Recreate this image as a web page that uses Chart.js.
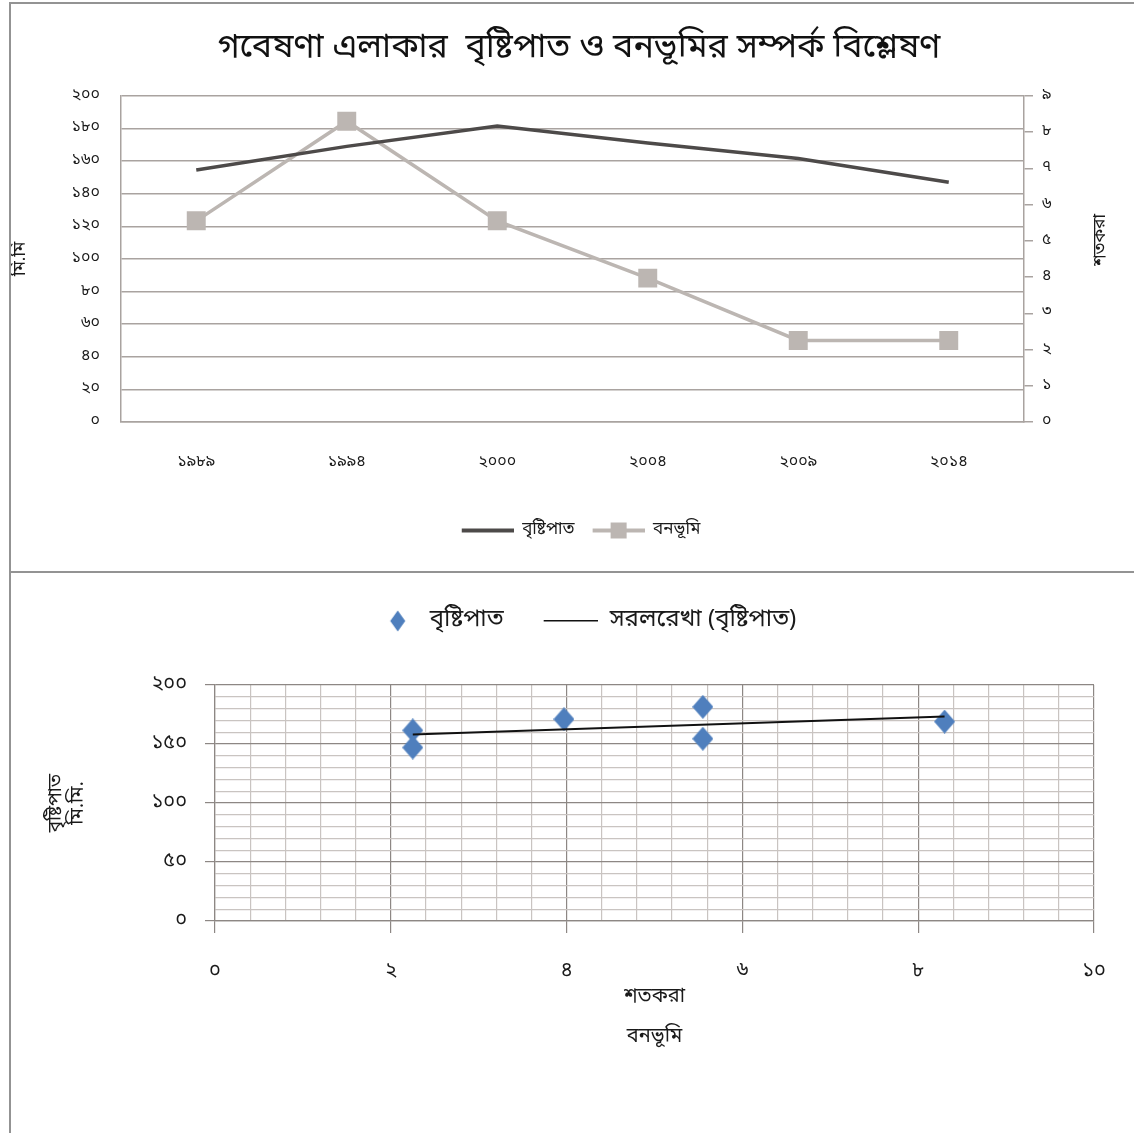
<!DOCTYPE html>
<html>
<head>
<meta charset="utf-8">
<script src="https://cdn.jsdelivr.net/npm/chart.js@4.4.1/dist/chart.umd.min.js"></script>
<style>
  html, body { margin: 0; padding: 0; background: #ffffff; }
  body { width: 1134px; height: 1133px; position: relative; overflow: hidden; }
  canvas { position: absolute; left: 0; }
  #trendChart { top: 0; }
  #scatterChart { top: 572px; }
  .rule { position: absolute; background: #939393; }
</style>
</head>
<body>
<canvas id="trendChart" width="1134" height="572" style="width:1134px;height:572px"></canvas>
<canvas id="scatterChart" width="1134" height="561" style="width:1134px;height:561px"></canvas>
<div class="rule" style="left:9px;top:2px;width:1125px;height:2px"></div>
<div class="rule" style="left:9px;top:2px;width:2px;height:1131px"></div>
<div class="rule" style="left:9px;top:571px;width:1125px;height:2px"></div>
<script>
// ---- data ----
const years = ['১৯৮৯', '১৯৯৪', '২০০০', '২০০৪', '২০০৯', '২০১৪'];
const rainfall = [154.5, 169, 181.5, 171, 161.5, 147];   // মি.মি
const forest = [5.55, 8.3, 5.55, 3.97, 2.25, 2.25];       // শতকরা
const bnDigits = ['০', '১', '২', '৩', '৪', '৫', '৬', '৭', '৮', '৯'];
const titleText = 'গবেষণা এলাকার  বৃষ্টিপাত ও বনভূমির সম্পর্ক বিশ্লেষণ';
const rainName = 'বৃষ্টিপাত';
const forestName = 'বনভূমি';
const trendName = 'সরলরেখা (বৃষ্টিপাত)';
const mmLabel = 'মি.মি';
const pctLabel = 'শতকরা';
const scatterYTitle = ['বৃষ্টিপাত', 'মি.মি.'];
const scatterXTitle = ['শতকরা', 'বনভূমি'];

// ---- styling ----
const FONT = "'Noto Sans Bengali', 'Lohit Bengali', 'Noto Serif Bengali', 'FreeSans', 'Noto Sans', sans-serif";
const TEXT = '#1a1a1a';
const DARK = '#4d4a49';
const LIGHT = '#bcb6b2';
const GRID = '#a9a3a0';
const BLUE = '#4f7fbd';

Chart.defaults.font.family = FONT;
Chart.defaults.color = TEXT;
Chart.defaults.animation = false;

const toBn = v => String(v).replace(/\d/g, d => bnDigits[d]);

function icon(w, h, draw) {
  const c = document.createElement('canvas');
  c.width = w; c.height = h;
  draw(c.getContext('2d'));
  return c;
}
function diamondAt(g, cx, cy, w, h, color) {
  g.fillStyle = color;
  g.beginPath();
  g.moveTo(cx, cy - h / 2);
  g.lineTo(cx + w / 2, cy);
  g.lineTo(cx, cy + h / 2);
  g.lineTo(cx - w / 2, cy);
  g.closePath();
  g.fill();
}

// legend swatches
const iconRain = icon(56, 8, g => { g.fillStyle = DARK; g.fillRect(4, 2, 52, 4); });
const iconForest = icon(56, 18, g => { g.fillStyle = LIGHT; g.fillRect(4, 7, 52, 4); g.fillRect(22, 1, 16, 16); });
const iconDiamond = icon(64, 22, g => diamondAt(g, 44, 11, 15, 21, BLUE));
const iconTrend = icon(64, 4, g => { g.fillStyle = '#111'; g.fillRect(10, 1, 54, 1.5); });
// scatter marker
const pointDiamond = icon(21, 24, g => diamondAt(g, 10.5, 12, 21, 24, BLUE));

// ---- upper chart: time series on two axes ----
const sideTitle = {
  id: 'sideTitle',
  afterDraw(chart) {
    const ctx = chart.ctx;
    ctx.save();
    ctx.translate(1102, 240);
    ctx.rotate(-Math.PI / 2);
    ctx.font = '17px ' + FONT;
    ctx.fillStyle = TEXT;
    ctx.textAlign = 'center';
    ctx.textBaseline = 'middle';
    ctx.fillText(pctLabel, 0, 0);
    ctx.restore();
  }
};

new Chart(document.getElementById('trendChart'), {
  type: 'line',
  data: {
    labels: years,
    datasets: [
      {
        label: rainName, data: rainfall, yAxisID: 'y',
        borderColor: DARK, borderWidth: 3.5, pointRadius: 0, tension: 0
      },
      {
        label: forestName, data: forest, yAxisID: 'y1',
        borderColor: LIGHT, borderWidth: 3.5, tension: 0,
        pointStyle: 'rect', pointRadius: 13.4, pointBackgroundColor: LIGHT, pointBorderWidth: 0
      }
    ]
  },
  options: {
    responsive: false,
    devicePixelRatio: 1,
    layout: { padding: { top: 0, left: 24, right: 0, bottom: 23 } },
    plugins: {
      title: {
        display: true, text: titleText, color: '#111',
        font: { size: 34, weight: 'normal', lineHeight: 1.2 },
        padding: { top: 30, bottom: 25 }
      },
      legend: {
        position: 'bottom',
        labels: {
          usePointStyle: true, pointStyleWidth: 56, padding: 14,
          font: { size: 17 }, color: TEXT,
          generateLabels: chart => chart.data.datasets.map((ds, i) => ({
            text: ds.label, pointStyle: i === 0 ? iconRain : iconForest,
            fillStyle: ds.borderColor, strokeStyle: ds.borderColor, lineWidth: 0,
            hidden: false, datasetIndex: i, fontColor: TEXT
          }))
        }
      },
      tooltip: { enabled: false }
    },
    scales: {
      x: {
        offset: true,
        grid: { display: false, drawTicks: false, offset: true },
        border: { display: true, color: GRID, width: 1.5 },
        ticks: { padding: 31, font: { size: 16 }, color: TEXT },
        afterFit: s => { s.height = 86; }
      },
      y: {
        position: 'left', min: 0, max: 200,
        ticks: { stepSize: 20, padding: 21, font: { size: 16 }, color: TEXT, callback: v => toBn(v) },
        grid: { color: GRID, lineWidth: 1.5, drawTicks: false },
        border: { display: true, color: GRID, width: 1.5 },
        title: { display: true, text: mmLabel, font: { size: 17 }, color: TEXT, padding: { top: -12, bottom: 0 } },
        afterFit: s => { s.width = 97; }
      },
      y1: {
        position: 'right', min: 0, max: 9,
        ticks: { stepSize: 1, padding: 9, font: { size: 16 }, color: TEXT, callback: v => toBn(v) },
        grid: { drawOnChartArea: false, drawTicks: true, tickLength: 9, tickColor: GRID, lineWidth: 1.5 },
        border: { display: true, color: GRID, width: 1.5 },
        afterFit: s => { s.width = 110; }
      }
    }
  },
  plugins: [sideTitle]
});

// ---- lower chart: rainfall against forest cover, with a least-squares line ----
const points = forest.map((f, i) => ({ x: f, y: rainfall[i] }));
const n = points.length;
const mx = forest.reduce((a, b) => a + b, 0) / n;
const my = rainfall.reduce((a, b) => a + b, 0) / n;
let sxy = 0, sxx = 0;
points.forEach(p => { sxy += (p.x - mx) * (p.y - my); sxx += (p.x - mx) * (p.x - mx); });
const slope = sxy / sxx;
const xLo = Math.min(...forest), xHi = Math.max(...forest);
const trend = [xLo, xHi].map(x => ({ x, y: my + slope * (x - mx) }));

const isMult = (v, m) => Math.abs(v / m - Math.round(v / m)) < 1e-6;
const MAJOR = '#8d8784';
const MINOR = '#c9c4c1';

new Chart(document.getElementById('scatterChart'), {
  type: 'scatter',
  data: {
    datasets: [
      {
        label: rainName, data: points, order: 1,
        pointStyle: pointDiamond, pointRadius: 12, backgroundColor: BLUE
      },
      {
        type: 'line', label: trendName, data: trend, order: 0,
        borderColor: '#111', borderWidth: 2, pointRadius: 0, tension: 0
      }
    ]
  },
  options: {
    responsive: false,
    devicePixelRatio: 1,
    layout: { padding: { top: 7, left: 56, right: 40, bottom: 75 } },
    plugins: {
      legend: {
        position: 'top',
        labels: {
          usePointStyle: true, pointStyleWidth: 64, padding: 30,
          font: { size: 24 }, color: TEXT,
          generateLabels: chart => chart.data.datasets.map((ds, i) => ({
            text: ds.label, pointStyle: i === 0 ? iconDiamond : iconTrend,
            fillStyle: BLUE, strokeStyle: BLUE, lineWidth: 0,
            hidden: false, datasetIndex: i, fontColor: TEXT
          }))
        }
      },
      subtitle: {
        display: true, text: '', weight: 500,
        font: { size: 10, lineHeight: 1 }, padding: { top: 0, bottom: 32 }
      },
      tooltip: { enabled: false }
    },
    scales: {
      x: {
        type: 'linear', min: 0, max: 10,
        ticks: {
          stepSize: 0.4, autoSkip: false, maxRotation: 0, padding: 27,
          font: { size: 20 }, color: TEXT,
          callback: v => isMult(v, 2) ? toBn(Math.round(v)) : ''
        },
        grid: {
          color: c => isMult(c.tick.value, 2) ? MAJOR : MINOR,
          tickColor: c => isMult(c.tick.value, 2) ? MAJOR : 'rgba(0,0,0,0)',
          lineWidth: 1.2, tickLength: 12
        },
        border: { display: true, color: MAJOR, width: 1.2 },
        title: {
          display: true, text: scatterXTitle, color: TEXT,
          font: { size: 20, lineHeight: '40px' }, padding: { top: 0, bottom: 0 }
        },
        afterFit: s => { s.height = 137; }
      },
      y: {
        min: 0, max: 200,
        ticks: {
          stepSize: 10, autoSkip: false, padding: 18,
          font: { size: 20 }, color: TEXT,
          callback: v => isMult(v, 50) ? toBn(v) : ''
        },
        grid: {
          color: c => isMult(c.tick.value, 50) ? MAJOR : MINOR,
          tickColor: c => isMult(c.tick.value, 50) ? MAJOR : 'rgba(0,0,0,0)',
          lineWidth: 1.2, tickLength: 10
        },
        border: { display: true, color: MAJOR, width: 1.2 },
        title: {
          display: true, text: scatterYTitle, color: TEXT,
          font: { size: 19, lineHeight: '22px' }, padding: { top: -10, bottom: 0 }
        },
        afterFit: s => { s.width = 159; }
      }
    }
  }
});
</script>
</body>
</html>
